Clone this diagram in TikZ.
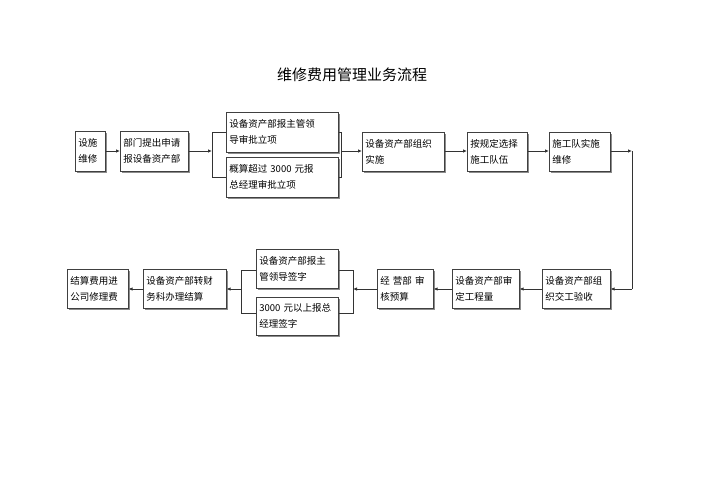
\documentclass[tikz,border=0pt]{standalone}
\usepackage{fontspec}
\setmainfont{Noto Sans CJK SC}
\usetikzlibrary{shadows,arrows.meta}
\begin{document}
\begin{tikzpicture}[x=1pt,y=-1pt,
  bx/.style={draw=black!75,fill=white,line width=0.6pt,anchor=north west,inner sep=3pt,
    font=\fontsize{9.5}{16}\selectfont,align=left,
    drop shadow={shadow xshift=1.5pt,shadow yshift=-1.5pt,fill=black!45,opacity=1}},
  ln/.style={line width=0.8pt,black!80},
  ar/.style={ln,-{Latex[length=4pt,width=3.5pt]}}]
\useasboundingbox (0,0) rectangle (708,500);
\node[font=\fontsize{15}{18}\selectfont] (title) at (352,75) {维修费用管理业务流程};
% top row
\node[bx,minimum width=30pt,minimum height=40pt,text width=24pt] (a1) at (75,131) {设施\\维修};
\node[bx,minimum width=68pt,minimum height=40pt,text width=62pt] (a2) at (120,131) {部门提出申请\\报设备资产部};
\node[bx,minimum width=112pt,minimum height=40pt,text width=106pt] (a3) at (226,112) {设备资产部报主管领\\导审批立项};
\node[bx,minimum width=112pt,minimum height=40pt,text width=106pt] (a4) at (226,157) {概算超过 3000 元报\\总经理审批立项};
\node[bx,minimum width=82pt,minimum height=39pt,text width=76pt] (a5) at (362,132) {设备资产部组织\\实施};
\node[bx,minimum width=60pt,minimum height=39pt,text width=54pt] (a6) at (467,132) {按规定选择\\施工队伍};
\node[bx,minimum width=61pt,minimum height=39pt,text width=55pt] (a7) at (549,132) {施工队实施\\维修};
\coordinate (l1t) at (212,132); \coordinate (l1b) at (212,177);
\coordinate (l1m) at (212,151);
\coordinate (r1t) at (341,132); \coordinate (r1b) at (341,177);
\coordinate (r1m) at (341,151);
\draw[ln] (a3.west|-l1t) -- (l1t) -- (l1b) -- (a4.west|-l1b);
\draw[ln] (a3.east|-r1t) -- (r1t) -- (r1b) -- (a4.east|-r1b);
\draw[ar] (a1.east|-l1m) -- (a2.west|-l1m);
\draw[ar] (a2.east|-l1m) -- (l1m);
\draw[ar] (r1m) -- (a5.west|-r1m);
\draw[ar] (a5.east|-r1m) -- (a6.west|-r1m);
\draw[ar] (a6.east|-r1m) -- (a7.west|-r1m);
\coordinate (c1) at (632,151); \coordinate (c2) at (632,289);
% bottom row
\node[bx,minimum width=68pt,minimum height=39pt,text width=62pt] (b1) at (542,269) {设备资产部组\\织交工验收};
\node[bx,minimum width=67pt,minimum height=39pt,text width=61pt] (b2) at (452,269) {设备资产部审\\定工程量};
\node[bx,minimum width=53pt,minimum height=39pt,text width=50pt] (b3) at (377,269) {经\ 营部\ 审\\核预算};
\node[bx,minimum width=82pt,minimum height=39pt,text width=76pt] (b4) at (256,249) {设备资产部报主\\管领导签字};
\node[bx,minimum width=82pt,minimum height=38pt,text width=76pt] (b5) at (256,297) {3000 元以上报总\\经理签字};
\node[bx,minimum width=83pt,minimum height=39pt,text width=77pt] (b6) at (143,269) {设备资产部转财\\务科办理结算};
\node[bx,minimum width=61pt,minimum height=39pt,text width=55pt] (b7) at (67,269) {结算费用进\\公司修理费};
\draw[ar] (a7.east|-c1) -- (c1);
\draw[ln] (c1) -- (c2);
\draw[ar] (c2) -- (b1.east|-c2);
\coordinate (r2t) at (353,270); \coordinate (r2b) at (353,313); \coordinate (r2m) at (353,289);
\coordinate (l2t) at (241,270); \coordinate (l2b) at (241,313); \coordinate (l2m) at (241,289);
\draw[ln] (b4.east|-r2t) -- (r2t) -- (r2b) -- (b5.east|-r2b);
\draw[ln] (b4.west|-l2t) -- (l2t) -- (l2b) -- (b5.west|-l2b);
\draw[ar] (b1.west|-c2) -- (b2.east|-c2);
\draw[ar] (b2.west|-c2) -- (b3.east|-c2);
\draw[ar] (b3.west|-c2) -- (r2m);
\draw[ar] (l2m) -- (b6.east|-c2);
\draw[ar] (b6.west|-c2) -- (b7.east|-c2);
\end{tikzpicture}
\end{document}
